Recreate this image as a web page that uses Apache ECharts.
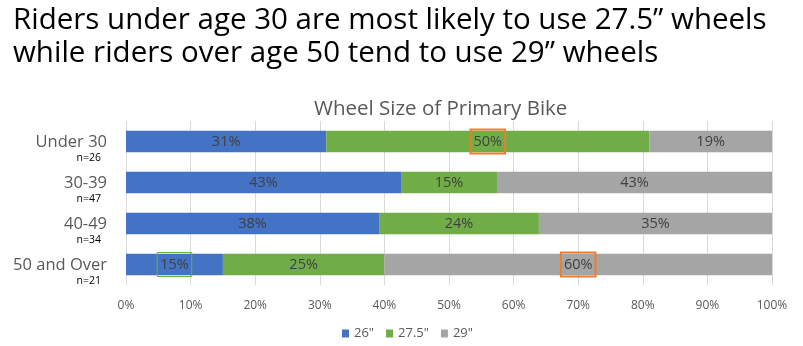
<!DOCTYPE html>
<html>
<head>
<meta charset="utf-8">
<script src="https://cdn.jsdelivr.net/npm/echarts@6/dist/echarts.min.js"></script>
<style>
  html, body { margin: 0; padding: 0; background: #fff; }
  #chart { width: 803px; height: 346px; }
</style>
</head>
<body>
<div id="chart"></div>
<script>
// survey answers, in percent of each age group
const categories = ['Under 30', '30-39', '40-49', '50 and Over']
const sampleSizes = [26, 47, 34, 21]
const wheel26 = [31, 43, 38, 15]
const wheel275 = [50, 15, 24, 25]
const wheel29 = [19, 43, 35, 60]
const xTicks = ['0%', '10%', '20%', '30%', '40%', '50%', '60%', '70%', '80%', '90%', '100%']

const FONT = 'Open Sans'
const orangeBox = { borderColor: '#ED7D31', borderWidth: 2, padding: [5, 3, 4, 3] }
const greenBox = { borderColor: '#70AD47', borderWidth: 1, padding: [5, 3, 4, 3] }

// each row is stretched to 100% (rows do not always add up exactly)
const rowTotals = categories.map((_, i) => wheel26[i] + wheel275[i] + wheel29[i])

function makeSeries(name, values, color, boxes) {
  return {
    name,
    type: 'bar',
    stack: 'share',
    barWidth: '52%',
    itemStyle: { color },
    label: {
      show: true,
      position: 'inside',
      color: '#404040',
      fontFamily: FONT,
      fontSize: 14.5,
      formatter: (p) => values[p.dataIndex] + '%',
    },
    data: values.map((v, i) => {
      const item = { value: (v / rowTotals[i]) * 100 }
      if (boxes[i]) item.label = boxes[i]
      return item
    }),
  }
}

const chart = echarts.init(document.getElementById('chart'))
chart.setOption({
  animation: false,
  textStyle: { fontFamily: FONT },
  title: [
    {
      text: 'Riders under age 30 are most likely to use 27.5\u201d wheels\nwhile riders over age 50 tend to use 29\u201d wheels',
      left: 8,
      top: -1,
      textStyle: { fontFamily: FONT, fontSize: 29.5, fontWeight: 'normal', color: '#000', lineHeight: 33 },
    },
    {
      text: 'Wheel Size of Primary Bike',
      left: 309,
      top: 94,
      textStyle: { fontFamily: FONT, fontSize: 20.5, fontWeight: 'normal', color: '#595959' },
    },
  ],
  legend: {
    left: 337,
    top: 322,
    itemWidth: 7,
    itemHeight: 8,
    itemGap: 12,
    icon: 'rect',
    textStyle: { fontFamily: FONT, fontSize: 13, color: '#595959' },
    data: ['26"', '27.5"', '29"'],
  },
  grid: { left: 126, right: 31, top: 121, bottom: 61 },
  xAxis: {
    type: 'value',
    min: 0,
    max: 100,
    interval: 10,
    axisLine: { show: false },
    axisTick: { show: false },
    splitLine: { lineStyle: { color: '#d9d9d9', width: 1 } },
    axisLabel: {
      margin: 15,
      color: '#595959',
      fontFamily: FONT,
      fontSize: 12,
      formatter: (v) => xTicks[Math.round(v / 10)],
    },
  },
  yAxis: {
    type: 'category',
    inverse: true,
    data: categories,
    axisLine: { show: false },
    axisTick: { show: false },
    axisLabel: {
      margin: 19,
      interval: 0,
      showMinLabel: true,
      showMaxLabel: true,
      hideOverlap: false,
      formatter: (v, i) => '{s|\u00a0}\n{a|' + v + '}\n{b|n=' + sampleSizes[i] + '}',
      rich: {
        s: { fontSize: 10, lineHeight: 14 },
        a: { fontFamily: FONT, fontSize: 16.5, color: '#595959', lineHeight: 20 },
        b: { fontFamily: FONT, fontSize: 10.5, color: '#000', lineHeight: 13, padding: [0, 6, 0, 0] },
      },
    },
  },
  series: [
    makeSeries('26"', wheel26, '#4472C4', { 3: greenBox }),
    makeSeries('27.5"', wheel275, '#70AD47', { 0: orangeBox }),
    makeSeries('29"', wheel29, '#A5A5A5', { 3: orangeBox }),
  ],
})
</script>
</body>
</html>
